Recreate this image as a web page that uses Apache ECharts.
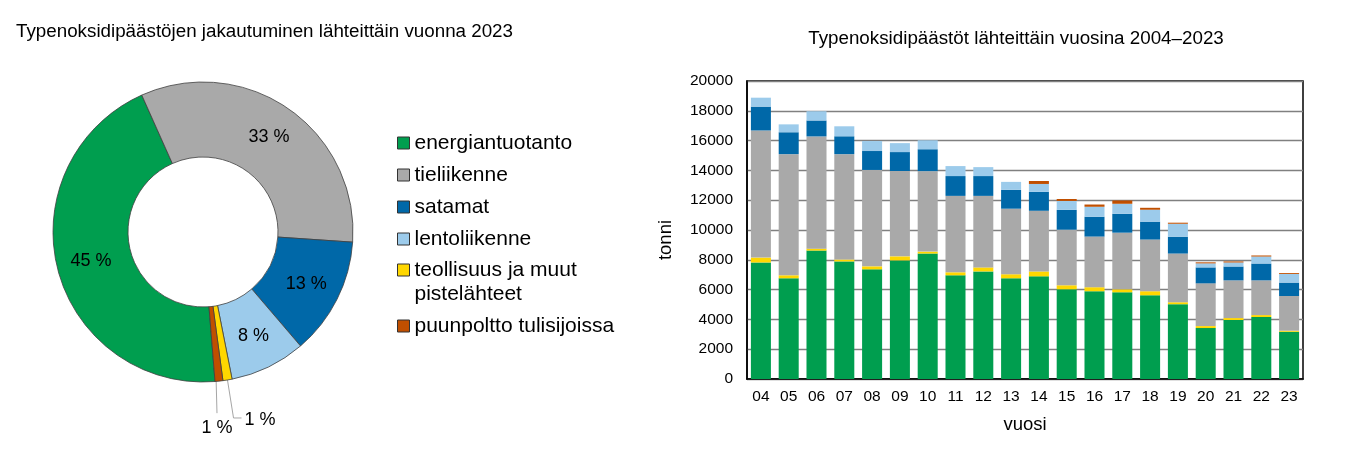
<!DOCTYPE html>
<html>
<head>
<meta charset="utf-8">
<script src="https://cdn.jsdelivr.net/npm/echarts@6/dist/echarts.min.js"></script>
<style>
html,body{margin:0;padding:0;background:#fff;}
#c{width:1362px;height:471px;}
</style>
</head>
<body>
<div id="c"></div>
<script>
// ---- data ----
var years = ['04','05','06','07','08','09','10','11','12','13','14','15','16','17','18','19','20','21','22','23'];
var energiantuotanto = [7820,6760,8620,7890,7360,7960,8420,6960,7220,6760,6890,6020,5890,5820,5620,5020,3420,3960,4160,3170];
var teollisuus = [330,200,130,130,200,270,130,200,270,270,330,270,270,200,270,130,130,130,130,70];
var tieliikenne = [8530,8130,7530,7070,6470,5730,5400,5130,4800,4400,4070,3730,3400,3800,3470,3270,2870,2530,2330,2330];
var satamat = [1600,1470,1070,1200,1270,1270,1470,1330,1330,1270,1270,1330,1330,1270,1200,1130,1070,930,1130,900];
var lentoliikenne = [600,530,620,670,670,600,600,670,600,530,530,600,670,670,800,870,270,270,470,580];
var puunpoltto = [0,0,0,0,0,0,0,0,0,0,200,130,150,220,130,70,70,70,70,60];

var names = ['energiantuotanto','tieliikenne','satamat','lentoliikenne','teollisuus ja muut\npistelähteet','puunpoltto tulisijoissa'];
var yTicks = {min:0, max:20000, interval:2000};

var leftTitle = 'Typenoksidipäästöjen jakautuminen lähteittäin vuonna 2023';
var rightTitle = 'Typenoksidipäästöt lähteittäin vuosina 2004–2023';
var xName = 'vuosi';
var yName = 'tonni';

// ---- styles ----
var C = {
  green:'#009E4F', gray:'#A9A9A9', blue:'#0068A8', lblue:'#9CCBEB', yellow:'#FFD700', brown:'#C04F00'
};
var FONT = 'Liberation Sans, Arial, sans-serif';

var last = years.length - 1;
var pieData = [
  {name:names[0], value:energiantuotanto[last], itemStyle:{color:C.green}},
  {name:names[1], value:tieliikenne[last], itemStyle:{color:C.gray}},
  {name:names[2], value:satamat[last], itemStyle:{color:C.blue}},
  {name:names[3], value:lentoliikenne[last], itemStyle:{color:C.lblue}},
  {name:names[4], value:teollisuus[last], itemStyle:{color:C.yellow},
    label:{position:'outside'}, labelLine:{show:true}},
  {name:names[5], value:puunpoltto[last], itemStyle:{color:C.brown},
    label:{position:'outside'}, labelLine:{show:true}}
];

function barSeries(name, data, color) {
  return {
    type:'bar', name:name, stack:'s', data:data,
    xAxisIndex:0, yAxisIndex:0,
    barCategoryGap:'28%',
    itemStyle:{color:color},
    emphasis:{disabled:true}
  };
}

var legendText = {fontFamily:FONT, fontSize:21, color:'#000', lineHeight:24};
var legendCommon = {
  orient:'vertical', left:397, padding:0, itemWidth:12, itemHeight:12, itemGap:8,
  icon:'rect', selectedMode:false,
  itemStyle:{borderColor:'#333', borderWidth:1}
};

var option = {
  backgroundColor:'#fff',
  animation:false,
  textStyle:{fontFamily:FONT},
  title:[
    {text:leftTitle, left:11, top:17, textStyle:{fontFamily:FONT, fontSize:18.8, fontWeight:'normal', color:'#000'}},
    {text:rightTitle, left:1011, textAlign:'center', top:24, textStyle:{fontFamily:FONT, fontSize:18.8, fontWeight:'normal', color:'#000'}}
  ],
  legend:[
    Object.assign({}, legendCommon, {top:131, data:names.slice(0,4), textStyle:legendText}),
    Object.assign({}, legendCommon, {top:234, data:[names[4]], textStyle:legendText,
      formatter:function(n){ return '\n' + n; }}),
    Object.assign({}, legendCommon, {top:314, data:[names[5]], textStyle:legendText})
  ],
  grid:{left:747, right:59, top:81, bottom:92, show:true, borderColor:'#000', borderWidth:1.5, backgroundColor:'transparent'},
  xAxis:{
    type:'category', data:years,
    name:xName, nameLocation:'middle', nameGap:36,
    nameTextStyle:{fontFamily:FONT, fontSize:18.5, color:'#000'},
    axisLine:{show:true, lineStyle:{color:'#000', width:1.5}},
    axisTick:{show:false},
    axisLabel:{fontFamily:FONT, fontSize:15.5, color:'#000', margin:10}
  },
  yAxis:{
    type:'value', min:yTicks.min, max:yTicks.max, interval:yTicks.interval,
    name:yName, nameLocation:'middle', nameGap:72, nameRotate:90,
    nameTextStyle:{fontFamily:FONT, fontSize:18.5, color:'#000', padding:[0,20,0,0]},
    axisLine:{show:true, lineStyle:{color:'#000', width:1.5}},
    axisTick:{show:false},
    axisLabel:{fontFamily:FONT, fontSize:15.5, color:'#000', margin:14,
      formatter:function(v){ return String(v); }},
    splitLine:{show:true, lineStyle:{color:'#808080', width:1.3}}
  },
  series:[
    barSeries(names[0], energiantuotanto, C.green),
    barSeries(names[4], teollisuus, C.yellow),
    barSeries(names[1], tieliikenne, C.gray),
    barSeries(names[2], satamat, C.blue),
    barSeries(names[3], lentoliikenne, C.lblue),
    barSeries(names[5], puunpoltto, C.brown),
    {
      type:'pie', center:[203,232], radius:[75,150], startAngle:274.6, clockwise:true,
      avoidLabelOverlap:false,
      itemStyle:{borderColor:'#404040', borderWidth:0.8},
      emphasis:{disabled:true},
      label:{show:true, position:'inside', fontFamily:FONT, fontSize:18, color:'#000',
        formatter:function(p){ return Math.round(p.percent) + ' %'; }},
      labelLine:{show:false, lineStyle:{color:'#A6A6A6', width:1}},
      labelLayout:function(p){
        if (p.dataIndex === 5 && p.labelLinePoints) {
          var a = p.labelLinePoints[0];
          return {x:a[0]-2, y:a[1]+47, align:'center', verticalAlign:'middle',
            labelLinePoints:[[a[0]-3,a[1]-6],[a[0]-2,a[1]+32],[a[0]-2,a[1]+32]]};
        }
        if (p.dataIndex === 4 && p.labelLinePoints) {
          var b = p.labelLinePoints[0];
          return {x:b[0]+17, y:b[1]+40, align:'left', verticalAlign:'middle',
            labelLinePoints:[[b[0]-1,b[1]-6],[b[0]+6,b[1]+38],[b[0]+14,b[1]+38]]};
        }
        return {};
      },
      data:pieData
    }
  ]
};

var chart = echarts.init(document.getElementById('c'), null, {renderer:'canvas'});
chart.setOption(option);
</script>
</body>
</html>
